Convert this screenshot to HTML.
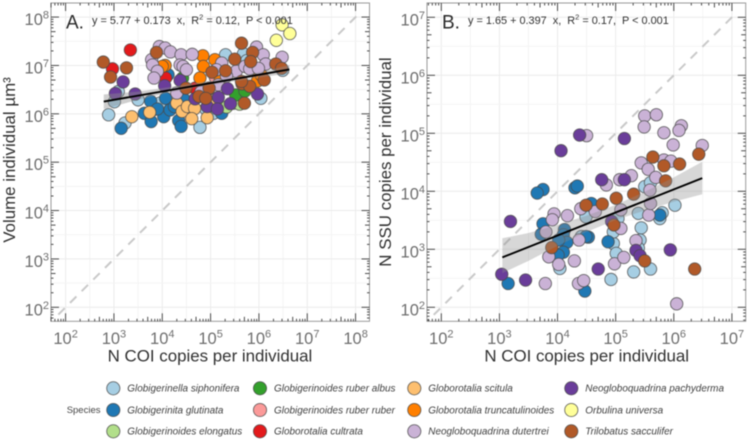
<!DOCTYPE html>
<html lang="en">
<head>
<meta charset="utf-8">
<title>COI copies vs volume and SSU copies</title>
<style>
html,body{margin:0;padding:0;background:#fff;}
body{width:749px;height:441px;overflow:hidden;}
svg{display:block;filter:blur(0.4px);font-family:"Liberation Sans",Arial,sans-serif;}
.pre{white-space:pre;}
</style>
</head>
<body>
<svg id="fig" xmlns="http://www.w3.org/2000/svg" width="749" height="441" viewBox="0 0 749 441"></svg>
<script>
// All values are log10 of the plotted quantity.
const aSiphoniferaCoi = [2.89,3.01,3.09,3.23,3.50,3.95,3.81,4.78,5.31,5.68,6.04,6.49,5.47,5.06,4.9,5.6,5.75];
const aSiphoniferaVol = [5.98,6.25,6.46,5.81,6.29,6.22,6.08,5.72,7.22,7.24,6.32,6.90,6.22,6.01,6.1,6.3,7.1];
const aGlutinataCoi = [3.15,3.76,4.07,3.63,3.77,4.03,4.16,4.34,4.39,4.12,4.46,4.61,5.06,5.23,4.25,3.9];
const aGlutinataVol = [5.70,6.26,6.32,6.01,5.84,5.94,6.08,5.86,5.74,6.81,6.29,6.08,6.29,6.01,6.15,6.1];
const aElongatusCoi = [5.33,5.6];
const aElongatusVol = [6.14,6.2];
const aAlbusCoi = [5.52,5.71,6.0,4.42];
const aAlbusVol = [6.39,6.47,6.84,6.74];
const aRuberCoi = [5.1];
const aRuberVol = [6.75];
const aCultrataCoi = [3.34,2.97,4.07,4.68];
const aCultrataVol = [7.32,6.93,6.74,6.53];
const aScitulaCoi = [3.37,3.74,4.30,4.41,4.52,4.67,4.61,4.93,5.1];
const aScitulaVol = [5.94,6.03,6.22,6.05,6.15,6.11,5.90,5.92,6.3];
const aTruncCoi = [4.06,4.0,4.84,5.09,4.85,4.78,5.99,5.97,5.2,6.05];
const aTruncVol = [7.0,6.98,7.2,7.12,6.98,6.74,6.74,6.68,6.7,6.8];
const aDutertreiCoi = [3.94,4.06,4.17,4.39,4.62,3.78,3.80,3.90,3.83,4.37,4.43,4.50,4.30,5.23,5.53,5.71,5.95,6.09,6.14,6.48,5.81,5.99,5.12,5.33,5.16,4.92,4.8];
const aDutertreiVol = [7.39,7.36,7.28,7.22,7.23,7.12,7.01,6.88,6.74,7.01,6.98,6.91,6.43,7.05,6.88,6.98,7.38,7.22,7.03,7.17,6.93,6.94,6.91,6.78,6.6,6.51,6.45];
const aPachydermaCoi = [3.19,3.03,3.44,4.05,4.37,5.35,5.16,4.93,5.14,5.97,4.68,5.41];
const aPachydermaVol = [6.66,6.42,6.41,6.58,6.69,6.52,6.34,6.15,6.10,6.41,6.31,6.21];
const aUniversaCoi = [6.48,6.64,6.36];
const aUniversaVol = [7.84,7.66,7.52];
const aSacculiferCoi = [2.78,3.26,2.93,3.88,5.64,5.87,5.83,5.50,5.03,5.31,6.35,6.47,6.11,5.65,5.81,4.97,4.49,4.76,4.90,5.70,5.64];
const aSacculiferVol = [7.07,6.95,6.76,7.27,7.46,7.27,7.08,7.13,6.86,6.89,7.03,6.94,6.70,6.62,6.57,6.53,6.53,6.36,6.32,6.22,6.67];

const bSiphoniferaCoi = [5.50,6.02,5.76,5.80,5.44,5.42,5.39,4.96,5.01,5.04,5.39,4.49,5.31,5.60,4.92,4.04,4.41,4.96,5.6];
const bSiphoniferaSsu = [4.08,3.76,3.53,3.63,3.37,3.16,3.02,3.10,2.93,3.53,3.62,3.56,2.61,2.66,2.48,2.67,3.22,3.30,4.15];
const bGlutinataCoi = [3.75,3.65,4.30,4.34,3.75,3.72,4.12,4.10,4.16,4.02,4.10,4.01,4.53,4.49,4.87,4.58,3.15,4.47,5.76];
const bGlutinataSsu = [4.03,3.97,4.06,4.09,3.44,3.26,3.34,3.25,3.12,3.16,2.95,2.90,3.21,3.22,3.13,3.79,2.41,2.28,3.59];
const bDutertreiCoi = [5.50,5.70,5.49,6.13,6.09,5.83,5.99,6.49,4.50,5.44,5.56,5.83,5.95,5.69,5.27,5.07,4.84,5.59,3.94,3.91,4.17,4.40,4.65,3.80,5.09,5.57,5.60,5.09,4.37,5.35,3.85,4.02,4.29,4.98,5.14,3.79,4.36,4.45,6.05];
const bDutertreiSsu = [5.30,5.32,5.11,5.13,5.05,5.01,4.80,4.79,4.96,4.49,4.38,4.54,4.52,4.24,4.27,4.20,4.11,4.02,3.61,3.51,3.58,3.70,3.65,3.30,3.68,3.59,3.79,3.36,3.16,3.15,2.87,2.74,2.80,2.75,2.86,2.41,2.41,2.46,2.06];
const bPachydermaCoi = [4.38,5.15,4.06,4.76,5.15,3.19,3.04,3.45,4.70,5.35,5.42,5.94,4.93];
const bPachydermaSsu = [4.97,4.91,4.70,4.20,4.20,3.48,2.57,2.47,2.66,2.98,2.89,2.99,3.48];
const bSacculiferCoi = [5.64,5.83,6.10,6.43,5.86,5.31,5.01,4.77,4.49,4.97,3.90,5.50,6.36];
const bSacculiferSsu = [4.59,4.44,4.47,4.64,4.18,3.95,3.88,3.78,3.76,3.42,3.03,2.80,2.66];

// Fit line: intercept, slope, x range
const aFit = [5.77,0.173,2.79,6.63];
const bFit = [1.65,0.397,3.05,6.49];
// Confidence ribbons
const aBandX = [2.79,3.5,4.2,4.9,5.6,6.2,6.63];
const aBandHigh = [6.40,6.46,6.56,6.67,6.78,6.90,7.01];
const aBandLow = [6.10,6.29,6.45,6.58,6.69,6.78,6.83];
const bBandX = [3.05,3.5,4,4.5,5,5.5,6,6.49];
const bBandHigh = [3.19,3.28,3.42,3.58,3.765,3.99,4.24,4.51];
const bBandLow = [2.59,2.80,3.06,3.30,3.505,3.67,3.82,3.95];

const aXTicks = [2,3,4,5,6,7,8];
const aYTicks = [2,3,4,5,6,7,8];
const bXTicks = [2,3,4,5,6,7];
const bYTicks = [2,3,4,5,6,7];
const minorSteps = [2,3,4,5,6,7,8,9];

const speciesNames = ["Globigerinella siphonifera","Globigerinita glutinata","Globigerinoides elongatus","Globigerinoides ruber albus","Globigerinoides ruber ruber","Globorotalia cultrata","Globorotalia scitula","Globorotalia truncatulinoides","Neogloboquadrina dutertrei","Neogloboquadrina pachyderma","Orbulina universa","Trilobatus sacculifer"];
const speciesColors = ["#A6CEE3","#1F78B4","#B2DF8A","#33A02C","#FB9A99","#E31A1C","#FDBF6F","#FF7F00","#CAB2D6","#6A3D9A","#FFFF99","#B15928"];

const NS = "http://www.w3.org/2000/svg";
const fig = document.getElementById("fig");
function mk(tag, parent, props){
  const el = document.createElementNS(NS, tag);
  for (const k in props) el.setAttribute(k, props[k]);
  parent.appendChild(el);
  return el;
}
function slug(s){ return s.toLowerCase().replace(/\s+/g,"-"); }

function drawPanel(p){
  const X = v => p.x0 + (v - p.xBase) * p.kx;
  const Y = v => p.y0 - (v - p.yBase) * p.ky;
  const g = mk("g", fig, {});
  
  
  const clipId = "clip-" + p.id;
  const defs = mk("defs", g, {});
  const cp = mk("clipPath", defs, {id: clipId});
  mk("rect", cp, {x:p.left, y:p.top, width:p.right-p.left, height:p.bottom-p.top});

  // grid
  const xMin = (p.left - p.x0)/p.kx + p.xBase, xMax = (p.right - p.x0)/p.kx + p.xBase;
  const yMin = (p.y0 - p.bottom)/p.ky + p.yBase, yMax = (p.y0 - p.top)/p.ky + p.yBase;
  const grid = mk("g", g, {"clip-path":"url(#"+clipId+")"});
  
  
  p.xTicks.forEach(t => {
    const l1 = mk("line", grid, {x1:X(t), x2:X(t), y1:p.top, y2:p.bottom, stroke:"#ebebeb", "stroke-width":1});
    
    
    const l2 = mk("line", grid, {x1:X(t+0.5), x2:X(t+0.5), y1:p.top, y2:p.bottom, stroke:"#f4f4f4", "stroke-width":1});
    
    
  });
  p.yTicks.forEach(t => {
    const l1 = mk("line", grid, {y1:Y(t), y2:Y(t), x1:p.left, x2:p.right, stroke:"#ebebeb", "stroke-width":1});
    
    
    const l2 = mk("line", grid, {y1:Y(t+0.5), y2:Y(t+0.5), x1:p.left, x2:p.right, stroke:"#f4f4f4", "stroke-width":1});
    
    
  });

  // identity line
  const id = mk("line", g, {x1:X(p.idFrom), y1:Y(p.idFrom), x2:X(p.idTo), y2:Y(p.idTo), stroke:"#c9c9c9", "stroke-width":2, "stroke-dasharray":"9 7.5"});
  
  

  // points
  p.series.forEach(s => {
    const sg = mk("g", g, {});
    
    
    s.x.forEach((vx, j) => {
      const c = mk("circle", sg, {cx:X(vx), cy:Y(s.y[j]), r:6.2, fill:speciesColors[s.i], stroke:"#4a4a4a", "stroke-opacity":0.8, "stroke-width":0.9});
      
      
    });
  });

  // ribbon
  let d = "";
  p.bandX.forEach((v,j) => { d += (j ? "L" : "M") + X(v) + " " + Y(p.bandHigh[j]); });
  for (let j = p.bandX.length-1; j >= 0; j--) d += "L" + X(p.bandX[j]) + " " + Y(p.bandLow[j]);
  d += "Z";
  const band = mk("path", g, {d:d, fill:"#8c8c8c", "fill-opacity":p.bandOpacity});
  
  

  // fit
  const fx1 = p.fit[2], fx2 = p.fit[3];
  const fit = mk("line", g, {x1:X(fx1), y1:Y(p.fit[0]+p.fit[1]*fx1), x2:X(fx2), y2:Y(p.fit[0]+p.fit[1]*fx2), stroke:"#000", "stroke-width":1.9});
  
  

  // frame
  const fr = mk("rect", g, {x:p.left, y:p.top, width:p.right-p.left, height:p.bottom-p.top, fill:"none", stroke:"#9a9a9a", "stroke-width":1});
  
  

  // ticks
  const tg = mk("g", g, {stroke:"#3a3a3a", "stroke-width":0.9});
  
  
  function tickX(v,len){
    const px = X(v);
    if (px < p.left || px > p.right) return;
    const a = mk("line", tg, {x1:px, x2:px, y1:p.bottom, y2:p.bottom-len});
    
    
    const b = mk("line", tg, {x1:px, x2:px, y1:p.top, y2:p.top+len});
    
    
  }
  function tickY(v,len){
    const py = Y(v);
    if (py < p.top || py > p.bottom) return;
    const a = mk("line", tg, {y1:py, y2:py, x1:p.left, x2:p.left+len});
    
    
    const b = mk("line", tg, {y1:py, y2:py, x1:p.right, x2:p.right-len});
    
    
  }
  for (let dec = Math.floor(xMin); dec <= Math.ceil(xMax); dec++){
    tickX(dec, 8);
    minorSteps.forEach(m => tickX(dec + Math.log10(m), m === 5 ? 4.5 : 2.5));
  }
  for (let dec = Math.floor(yMin); dec <= Math.ceil(yMax); dec++){
    tickY(dec, 8);
    minorSteps.forEach(m => tickY(dec + Math.log10(m), m === 5 ? 4.5 : 2.5));
  }

  // tick labels
  p.xTicks.forEach(t => {
    const tx = mk("text", g, {x:X(t), y:344.2, "text-anchor":"middle", "font-size":16.5, fill:"#6e6e6e"});
    
    
    tx.textContent = "10";
    const sp = mk("tspan", tx, {dy:-6.5, "font-size":11});
    sp.textContent = String(t);
  });
  p.yTicks.forEach(t => {
    const tx = mk("text", g, {x:p.left-2, y:Y(t)+8, "text-anchor":"end", "font-size":16.5, fill:"#6e6e6e"});
    
    
    tx.textContent = "10";
    const sp = mk("tspan", tx, {dy:-6.5, "font-size":11});
    sp.textContent = String(t);
  });

  // titles
  const xt = mk("text", g, {x:p.xTitleX, y:361.7, "text-anchor":"middle", "font-size":16.9, fill:"#303030"});
  
  
  xt.textContent = "N COI copies per individual";
  const yt = mk("text", g, {x:p.yTitleX, y:p.yTitleY, "text-anchor":"middle", "font-size":16.9, fill:"#303030", transform:"rotate(-90 "+p.yTitleX+" "+p.yTitleY+")"});
  
  
  yt.textContent = p.yTitle;

  // panel letter + equation
  const lt = mk("text", g, {x:p.left+15, y:28.5, "font-size":19, fill:"#2a2a2a"});
  
  
  lt.textContent = p.letter;
  const eq = mk("text", g, {x:p.left+41, y:23.8, "font-size":10.9, fill:"#303030", "class":"pre"});
  
  
  eq.textContent = p.eq1;
  const s2 = mk("tspan", eq, {dy:-4.5, "font-size":7.5});
  s2.textContent = "2";
  const s3 = mk("tspan", eq, {dy:4.5});
  s3.textContent = p.eq2;
}

drawPanel({
  id:"volume", letter:"A.", left:51, right:369.5, top:3, bottom:321.3,
  x0:65.6, xBase:2, kx:48.33, y0:307.3, yBase:2, ky:48.37,
  xTicks:aXTicks, yTicks:aYTicks, idFrom:1.85, idTo:8.12,
  fit:aFit, bandX:aBandX, bandHigh:aBandHigh, bandLow:aBandLow, bandOpacity:0.42,
  xTitleX:210, yTitleX:15, yTitleY:160, yTitle:"Volume individual  µm³",
  eq1:"y = 5.77 + 0.173  x,  R", eq2:" = 0.12,  P < 0.001",
  series:[
    {i:0,x:aSiphoniferaCoi,y:aSiphoniferaVol},
    {i:1,x:aGlutinataCoi,y:aGlutinataVol},
    {i:2,x:aElongatusCoi,y:aElongatusVol},
    {i:3,x:aAlbusCoi,y:aAlbusVol},
    {i:4,x:aRuberCoi,y:aRuberVol},
    {i:5,x:aCultrataCoi,y:aCultrataVol},
    {i:6,x:aScitulaCoi,y:aScitulaVol},
    {i:7,x:aTruncCoi,y:aTruncVol},
    {i:8,x:aDutertreiCoi,y:aDutertreiVol},
    {i:9,x:aPachydermaCoi,y:aPachydermaVol},
    {i:10,x:aUniversaCoi,y:aUniversaVol},
    {i:11,x:aSacculiferCoi,y:aSacculiferVol}
  ]
});
drawPanel({
  id:"ssu", letter:"B.", left:427, right:745.7, top:3, bottom:321.3,
  x0:441.3, xBase:2, kx:58.12, y0:307.3, yBase:2, ky:58,
  xTicks:bXTicks, yTicks:bYTicks, idFrom:1.87, idTo:7.09,
  fit:bFit, bandX:bBandX, bandHigh:bBandHigh, bandLow:bBandLow, bandOpacity:0.35,
  xTitleX:586.7, yTitleX:391, yTitleY:162, yTitle:"N SSU copies per individual",
  eq1:"y = 1.65 + 0.397  x,  R", eq2:" = 0.17,  P < 0.001",
  series:[
    {i:0,x:bSiphoniferaCoi,y:bSiphoniferaSsu},
    {i:1,x:bGlutinataCoi,y:bGlutinataSsu},
    {i:8,x:bDutertreiCoi,y:bDutertreiSsu},
    {i:9,x:bPachydermaCoi,y:bPachydermaSsu},
    {i:11,x:bSacculiferCoi,y:bSacculiferSsu}
  ]
});

// legend
const legend = mk("g", fig, {});


const legendTitle = mk("text", legend, {x:66.7, y:413.2, "font-size":9.5, fill:"#444"});


legendTitle.textContent = "Species";
const legendColX = [113.3,260,414.3,571.3];
const legendRowY = [388.3,410,431.3];
speciesNames.forEach((n,i) => {
  const cx = legendColX[Math.floor(i/3)], cy = legendRowY[i%3];
  const e = mk("g", legend, {});
  
  
  const c = mk("circle", e, {cx:cx, cy:cy, r:6.6, fill:speciesColors[i], stroke:"#4a4a4a", "stroke-opacity":0.8, "stroke-width":0.9});
  
  
  const t = mk("text", e, {x:cx+14, y:cy+3.4, "font-size":9.95, "font-style":"italic", fill:"#404040"});
  
  
  t.textContent = n;
});
</script>
</body>
</html>
